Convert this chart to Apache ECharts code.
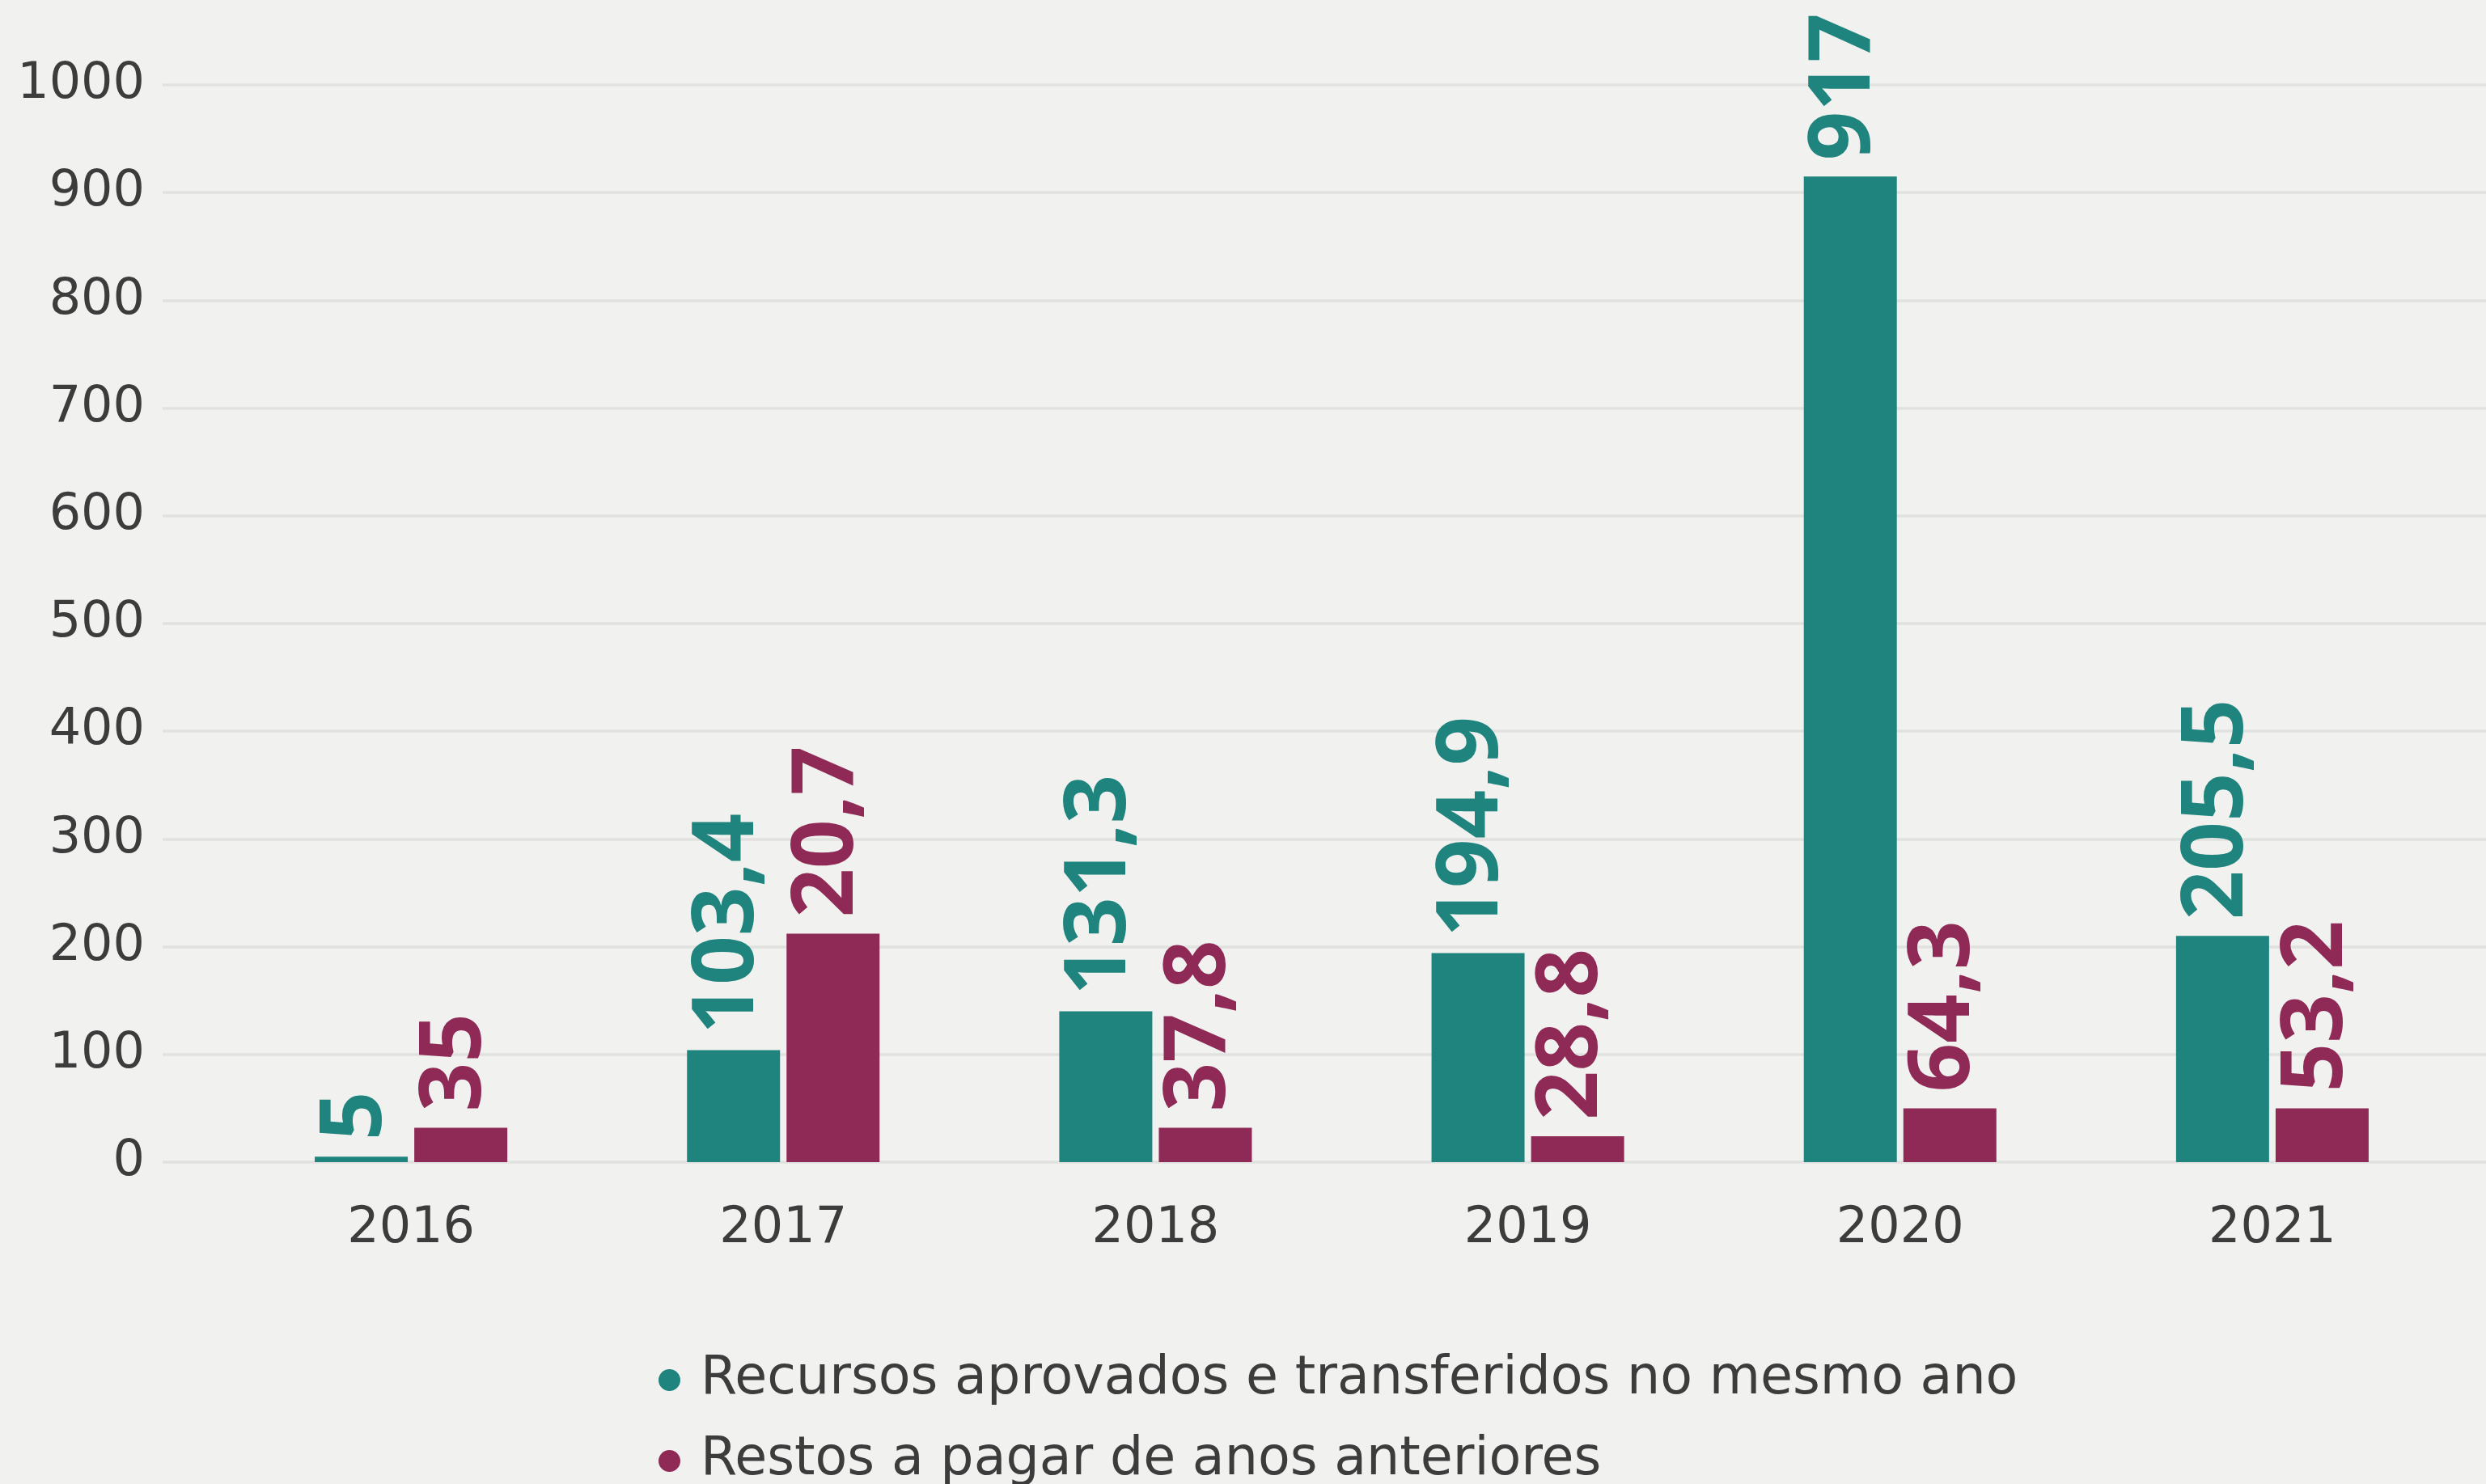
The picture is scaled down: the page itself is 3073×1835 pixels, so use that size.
<!DOCTYPE html>
<html>
<head>
<meta charset="utf-8">
<title>Recursos</title>
<script src="https://cdn.jsdelivr.net/npm/echarts@6/dist/echarts.min.js"></script>
<style>
  html, body { margin: 0; padding: 0; background: #f1f1ef; }
  #chart { width: 3073px; height: 1835px; }
</style>
</head>
<body>
<div id="chart"></div>
<script>
// anos
const years = ['2016', '2017', '2018', '2019', '2020', '2021'];
// altura das barras
const aprovados = [5, 104, 140, 194, 915, 210];
const restos = [32, 212, 32, 24, 50, 50];
// rotulos escritos sobre as barras
const aprovadosLabels = ['5', '103,4', '131,3', '194,9', '917', '205,5'];
const restosLabels = ['35', '20,7', '37,8', '28,8', '64,3', '53,2'];
const seriesNames = ['Recursos aprovados e transferidos no mesmo ano', 'Restos a pagar de anos anteriores'];
const yTicks = [0, 100, 200, 300, 400, 500, 600, 700, 800, 900, 1000];

const green = '#1f847e';
const wine = '#8f2a57';
const textColor = '#3c3c3c';

const chart = echarts.init(document.getElementById('chart'));

function barLabel(labels, color) {
  return {
    show: true,
    position: 'top',
    rotate: 90,
    align: 'left',
    verticalAlign: 'middle',
    distance: 20,
    offset: [0, -6],
    fontFamily: 'Noto Sans',
    fontWeight: 'bold',
    fontSize: 106,
    color: color,
    formatter: p => labels[p.dataIndex]
  };
}

// uma legenda por linha
function legendRow(name, top) {
  return {
    left: 809,
    top: top,
    icon: 'circle',
    itemWidth: 27,
    itemHeight: 27,
    textStyle: {
      fontFamily: 'DejaVu Sans',
      fontSize: 65,
      lineHeight: 75,
      color: textColor,
      padding: [0, 0, 0, 20]
    },
    data: [name]
  };
}

const option = {
  backgroundColor: '#f1f1ef',
  animation: false,
  grid: [
    { left: 201, right: 0, top: 105, bottom: 398 }, // linhas de grade
    { left: 278, right: 34, top: 105, bottom: 398 } // barras
  ],
  legend: [
    legendRow(seriesNames[0], 1664),
    legendRow(seriesNames[1], 1764)
  ],
  xAxis: [
    { gridIndex: 0, type: 'category', data: years, show: false },
    {
      gridIndex: 1,
      type: 'category',
      data: years,
      axisLine: { show: false },
      axisTick: { show: false },
      axisLabel: {
        margin: 52,
        fontFamily: 'DejaVu Sans',
        fontSize: 62,
        color: textColor
      }
    }
  ],
  yAxis: [
    {
      gridIndex: 0,
      type: 'value',
      min: yTicks[0],
      max: yTicks[yTicks.length - 1],
      interval: 100,
      axisLine: { show: false },
      axisTick: { show: false },
      axisLabel: {
        margin: 22,
        fontFamily: 'DejaVu Sans',
        fontSize: 62,
        color: textColor,
        formatter: v => String(v)
      },
      splitLine: { lineStyle: { color: '#e1e1e0', width: 3.5 } }
    },
    {
      gridIndex: 1,
      type: 'value',
      min: yTicks[0],
      max: yTicks[yTicks.length - 1],
      show: false,
      splitLine: { show: false }
    }
  ],
  series: [
    {
      name: seriesNames[0],
      type: 'bar',
      xAxisIndex: 1,
      yAxisIndex: 1,
      barWidth: 115,
      barGap: '7%',
      itemStyle: { color: green },
      label: barLabel(aprovadosLabels, green),
      data: aprovados
    },
    {
      name: seriesNames[1],
      type: 'bar',
      xAxisIndex: 1,
      yAxisIndex: 1,
      barWidth: 115,
      barGap: '7%',
      itemStyle: { color: wine },
      label: barLabel(restosLabels, wine),
      data: restos
    }
  ]
};

chart.setOption(option);
</script>
</body>
</html>
